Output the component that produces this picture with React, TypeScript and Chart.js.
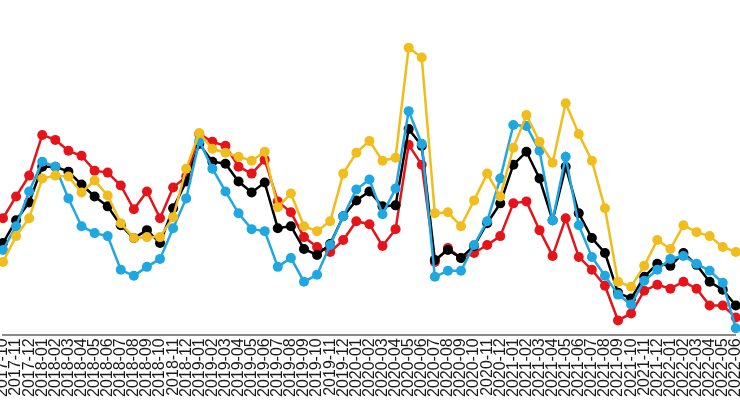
import React, { useEffect, useRef } from "react";
import { Chart, registerables } from "chart.js";

Chart.register(...registerables);

const months: string[] = [
  "2017-10", "2017-11", "2017-12",
  "2018-01", "2018-02", "2018-03", "2018-04", "2018-05", "2018-06", "2018-07", "2018-08", "2018-09", "2018-10", "2018-11", "2018-12",
  "2019-01", "2019-02", "2019-03", "2019-04", "2019-05", "2019-06", "2019-07", "2019-08", "2019-09", "2019-10", "2019-11", "2019-12",
  "2020-01", "2020-02", "2020-03", "2020-04", "2020-05", "2020-06", "2020-07", "2020-08", "2020-09", "2020-10", "2020-11", "2020-12",
  "2021-01", "2021-02", "2021-03", "2021-04", "2021-05", "2021-06", "2021-07", "2021-08", "2021-09", "2021-10", "2021-11", "2021-12",
  "2022-01", "2022-02", "2022-03", "2022-04", "2022-05", "2022-06",
];

// index values (arbitrary scale, higher = up)
const redSeries: number[] = [
  125, 147, 168, 209, 204, 193, 188, 173, 171, 158, 134, 152, 125, 156, 167,
  210, 202, 198, 177, 170, 184, 142, 131, 106, 96, 91, 103, 122, 119, 97, 114,
  199, 179, 81, 95, 85, 90, 98, 107, 140, 142, 113, 87, 125, 86, 73, 57, 22, 29,
  52, 58, 54, 61, 54, 37, 37, 25,
];
const blackSeries: number[] = [
  100, 123, 141, 177, 177, 172, 159, 147, 137, 118, 105, 113, 100, 135, 162,
  200, 182, 180, 162, 151, 161, 115, 117, 94, 88, 99, 127, 143, 152, 137, 138,
  215, 198, 83, 93, 85, 97, 120, 140, 179, 192, 165, 123, 177, 130, 105, 90, 50, 44,
  66, 79, 77, 90, 78, 61, 53, 37,
];
const blueSeries: number[] = [
  93, 117, 152, 182, 177, 145, 117, 110, 107, 73, 67, 76, 84, 115, 145,
  203, 175, 152, 130, 114, 112, 76, 85, 61, 68, 98, 127, 154, 164, 129, 155,
  233, 200, 66, 72, 72, 98, 122, 165, 219, 218, 193, 123, 187, 118, 86, 67, 48, 38,
  62, 73, 84, 87, 79, 72, 60, 14,
];
const yellowSeries: number[] = [
  81, 107, 125, 165, 168, 167, 151, 163, 148, 120, 105, 106, 106, 126, 175,
  211, 195, 191, 187, 183, 192, 136, 150, 117, 112, 122, 170, 191, 203, 183, 186,
  297, 287, 130, 131, 117, 143, 170, 147, 196, 229, 202, 181, 241, 210, 183, 135, 61, 56,
  77, 103, 94, 118, 111, 107, 96, 91,
];

const RED = "#e5141b";
const BLACK = "#000000";
const BLUE = "#1ea7e1";
const YELLOW = "#f0bd1c";

function ds(data: number[], color: string) {
  return {
    data,
    borderColor: color,
    backgroundColor: color,
    pointBackgroundColor: color,
    pointBorderColor: color,
    borderWidth: 2.5,
    pointRadius: 5,
    pointBorderWidth: 0,
    tension: 0,
    clip: false as const,
  };
}

export default function App() {
  const ref = useRef<HTMLCanvasElement | null>(null);
  useEffect(() => {
    document.body.style.margin = "0";
    const ctx = ref.current;
    if (!ctx) return;
    const chart = new Chart(ctx, {
      type: "line",
      data: {
        labels: months,
        datasets: [
          ds(yellowSeries, YELLOW),
          ds(blueSeries, BLUE),
          ds(blackSeries, BLACK),
          ds(redSeries, RED),
        ],
      },
      options: {
        responsive: false,
        animation: false,
        layout: { padding: 0 },
        plugins: { legend: { display: false }, tooltip: { enabled: false } },
        scales: {
          x: {
            offset: false,
            grid: { display: false, drawTicks: false },
            border: { display: true, color: "#8a8a8a", width: 2 },
            ticks: {
              autoSkip: false,
              minRotation: 90,
              maxRotation: 90,
              padding: 3,
              color: "#1a1a1a",
              font: { family: "'Liberation Sans', Arial, sans-serif", size: 16 },
            },
          },
          y: {
            display: false,
            min: 7,
            max: 340,
          },
        },
      },
    });
    return () => chart.destroy();
  }, []);
  return (
    <div style={{ position: "fixed", left: -2, top: 0 }}>
      <canvas ref={ref} width={760} height={400} />
    </div>
  );
}
